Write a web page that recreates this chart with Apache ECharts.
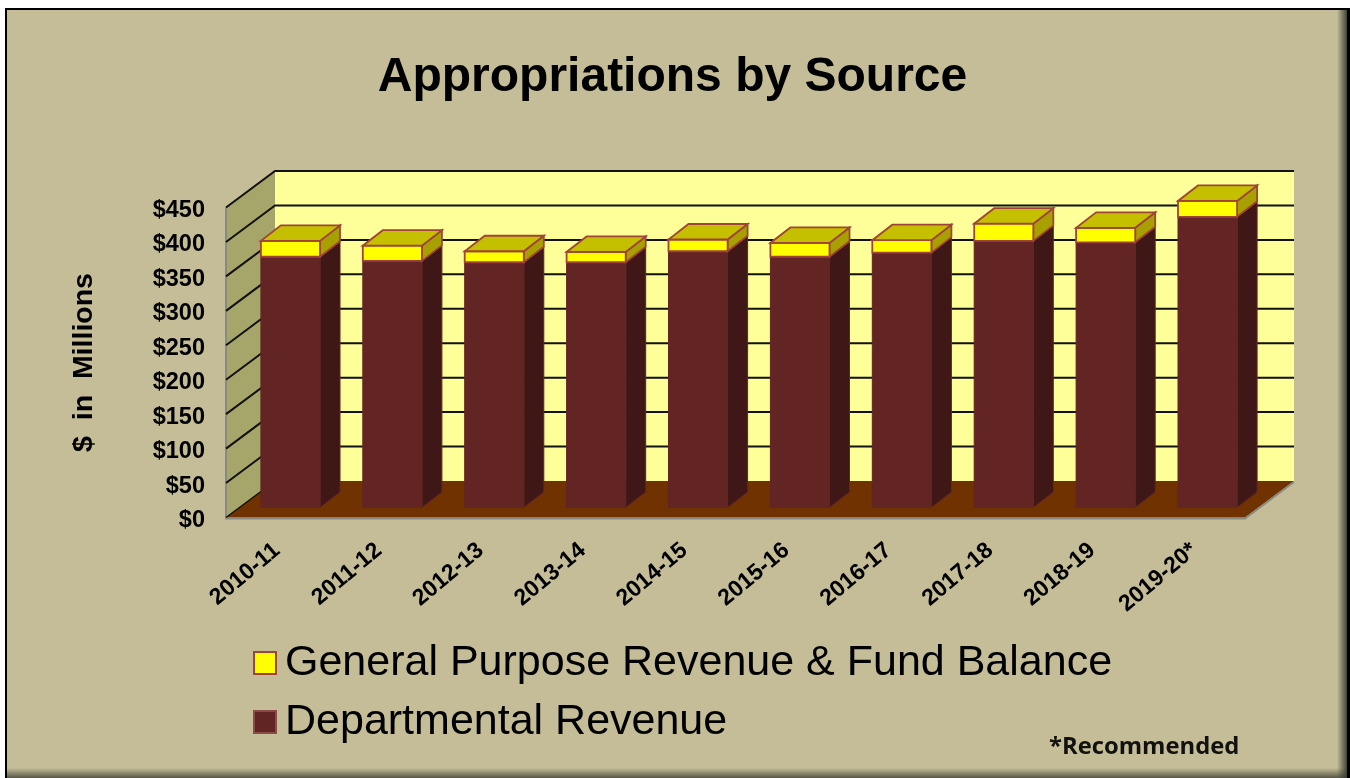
<!DOCTYPE html>
<html>
<head>
<meta charset="utf-8">
<title>Appropriations by Source</title>
<script src="https://cdn.jsdelivr.net/npm/echarts@6/dist/echarts.min.js"></script>
<style>
html, body { margin: 0; padding: 0; background: #fff; }
#chart { width: 1350px; height: 778px; }
</style>
</head>
<body>
<div id="chart"></div>
<script>
// values in $ millions
var years = ['2010-11', '2011-12', '2012-13', '2013-14', '2014-15', '2015-16', '2016-17', '2017-18', '2018-19', '2019-20*'];
var departmental = [364, 358, 356, 356, 372, 364, 370, 387, 385, 422];
var generalPurpose = [23, 22, 16, 15, 17, 20, 18, 25, 21, 23];
var yTicks = [0, 50, 100, 150, 200, 250, 300, 350, 400, 450];

var GPR_NAME = 'General Purpose Revenue & Fund Balance';
var DEPT_NAME = 'Departmental Revenue';

// fake 3d offsets
var WALL_DX = 49, WALL_DY = -36.5;
var FLOOR_DX = 13.5, FLOOR_DY = -10;
var BAR_DX = 20, BAR_DY = -15.5;
var BAR_RATIO = 0.58;
var FONT = '"Liberation Sans", Arial, sans-serif';

function poly(points, fill, stroke, width) {
    return {
        type: 'polygon',
        shape: { points: points },
        style: { fill: fill, stroke: stroke || null, lineWidth: width || 0 }
    };
}

function renderWalls(params, api) {
    var r = params.coordSys;
    var x0 = r.x, x1 = r.x + r.width, yb = r.y + r.height, yt = r.y;
    var kids = [
        poly([[x0 + WALL_DX, yt + WALL_DY], [x1 + WALL_DX, yt + WALL_DY], [x1 + WALL_DX, yb + WALL_DY], [x0 + WALL_DX, yb + WALL_DY]], '#ffff99'),
        poly([[x0, yt], [x0 + WALL_DX, yt + WALL_DY], [x0 + WALL_DX, yb + WALL_DY], [x0, yb]], '#a6a66a'),
        poly([[x0, yb], [x1, yb], [x1 + WALL_DX, yb + WALL_DY], [x0 + WALL_DX, yb + WALL_DY]], '#703200'),
        // grey edges under the floor and along the side wall
        { type: 'polyline', shape: { points: [[x0, yt], [x0, yb + 1], [x1, yb + 1], [x1 + WALL_DX, yb + WALL_DY + 1]] }, style: { fill: null, stroke: '#8a8a84', lineWidth: 2 } }
    ];
    yTicks.forEach(function (t) {
        var y = api.coord([0, t])[1];
        if (t > 0) {
            kids.push({
                type: 'polyline',
                shape: { points: [[x0, y], [x0 + WALL_DX, y + WALL_DY], [x1 + WALL_DX, y + WALL_DY]] },
                style: { fill: null, stroke: '#111', lineWidth: 2 }
            });
        } else {
            kids.push({
                type: 'polyline',
                shape: { points: [[x0, y], [x0 + WALL_DX, y + WALL_DY]] },
                style: { fill: null, stroke: '#111', lineWidth: 1.5 }
            });
        }
    });
    return { type: 'group', children: kids };
}

function barRenderer(front, side, top, stroke, strokeWidth) {
    return function (params, api) {
        var c0 = api.coord([api.value(0), api.value(1)]);
        var c1 = api.coord([api.value(0), api.value(2)]);
        var w = api.size([1, 0])[0] * BAR_RATIO;
        var xl = c0[0] + FLOOR_DX - w / 2, xr = xl + w;
        var yb = c0[1] + FLOOR_DY, yt = c1[1] + FLOOR_DY;
        var kids = [
            poly([[xr, yb], [xr + BAR_DX, yb + BAR_DY], [xr + BAR_DX, yt + BAR_DY], [xr, yt]], side, stroke, strokeWidth),
            poly([[xl, yb], [xr, yb], [xr, yt], [xl, yt]], front, stroke, strokeWidth)
        ];
        if (top) {
            kids.push(poly([[xl, yt], [xr, yt], [xr + BAR_DX, yt + BAR_DY], [xl + BAR_DX, yt + BAR_DY]], top, stroke, strokeWidth));
        }
        return { type: 'group', children: kids };
    };
}

var deptData = years.map(function (y, i) { return [i, 0, departmental[i]]; });
var gprData = years.map(function (y, i) { return [i, departmental[i], departmental[i] + generalPurpose[i]]; });

var chart = echarts.init(document.getElementById('chart'));
chart.setOption({
    animation: false,
    backgroundColor: '#fff',
    title: [
        {
            text: 'Appropriations by Source',
            left: 667.5, top: 49, textAlign: 'center',
            textStyle: { fontFamily: FONT, fontWeight: 'bold', fontSize: 48, color: '#000' }
        },
        {
            text: '*Recommended',
            left: 1044, top: 730,
            textStyle: { fontFamily: '"Open Sans", sans-serif', fontWeight: 'bold', fontSize: 23.8, color: '#111' }
        }
    ],
    graphic: [
        // slide frame
        { type: 'rect', z: -10, shape: { x: 5, y: 8, width: 1345, height: 770 }, style: { fill: '#000' } },
        { type: 'rect', z: -9, shape: { x: 7, y: 10, width: 1340, height: 768 }, style: { fill: '#c4bd97' } },
        { type: 'rect', z: -8, shape: { x: 1337, y: 10, width: 10, height: 768 }, style: { fill: new echarts.graphic.LinearGradient(0, 0, 1, 0, [{ offset: 0, color: 'rgba(60,60,50,0)' }, { offset: 1, color: 'rgba(60,60,50,0.95)' }]) } },
        { type: 'rect', z: -8, shape: { x: 7, y: 768, width: 1340, height: 10 }, style: { fill: new echarts.graphic.LinearGradient(0, 0, 0, 1, [{ offset: 0, color: 'rgba(60,60,50,0)' }, { offset: 1, color: 'rgba(60,60,50,0.8)' }]) } }
    ],
    grid: { left: 226, top: 207.5, width: 1019, height: 310 },
    legend: {
        data: [GPR_NAME, DEPT_NAME],
        orient: 'vertical',
        left: 253, top: 641.5,
        padding: 0,
        itemWidth: 22, itemHeight: 22,
        itemGap: 16,
        icon: 'rect',
        textStyle: { fontFamily: FONT, fontSize: 43, color: '#000', padding: [8, 0, 0, 4] }
    },
    xAxis: {
        type: 'category',
        data: years,
        axisLine: { show: false },
        axisTick: { show: false },
        axisLabel: { rotate: 40, margin: 30, interval: 0, fontFamily: FONT, fontWeight: 'bold', fontSize: 23, color: '#000' }
    },
    yAxis: {
        type: 'value',
        min: 0, max: 450, interval: 50,
        name: '$  in  Millions',
        nameLocation: 'middle',
        nameRotate: 90,
        nameGap: 127,
        nameTextStyle: { fontFamily: FONT, fontWeight: 'bold', fontSize: 28.5, color: '#000' },
        axisLine: { show: false },
        axisTick: { show: false },
        splitLine: { show: false },
        axisLabel: {
            margin: 21, fontFamily: FONT, fontWeight: 'bold', fontSize: 23.5, color: '#000',
            verticalAlign: 'top', lineHeight: 6,
            formatter: function (v) { return '$' + v; }
        }
    },
    series: [
        {
            type: 'custom', name: 'walls', silent: true, z: 1, clip: false,
            data: [[0, 0, 0]],
            encode: { x: 0, y: 1 },
            renderItem: renderWalls
        },
        {
            type: 'custom', name: DEPT_NAME, z: 2, clip: false,
            itemStyle: { color: '#632523', borderColor: '#8a4a48', borderWidth: 1 },
            data: deptData,
            encode: { x: 0, y: [1, 2] },
            renderItem: barRenderer('#632523', '#3f1716', null, '#632523', 1)
        },
        {
            type: 'custom', name: GPR_NAME, z: 3, clip: false,
            itemStyle: { color: '#ffff00', borderColor: '#a0433a', borderWidth: 2 },
            data: gprData,
            encode: { x: 0, y: [1, 2] },
            renderItem: barRenderer('#ffff00', '#a8a000', '#c4c000', '#a0433a', 1.8)
        }
    ]
});
</script>
</body>
</html>
